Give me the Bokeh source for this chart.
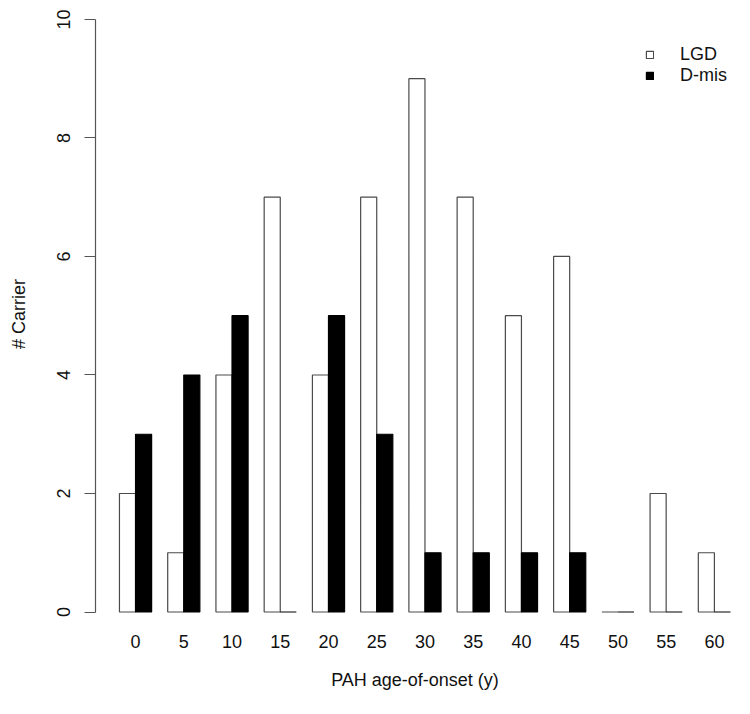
from bokeh.plotting import figure
from bokeh.models import Range1d, FixedTicker, Legend, LegendItem, ColumnDataSource
from bokeh.embed import file_html
from bokeh.resources import INLINE

# Data
ages = [0, 5, 10, 15, 20, 25, 30, 35, 40, 45, 50, 55, 60]
lgd = [2, 1, 4, 7, 4, 7, 9, 7, 5, 6, 0, 2, 1]
dmis = [3, 4, 5, 0, 5, 3, 1, 1, 1, 1, 0, 0, 0]
y_ticks = [0, 2, 4, 6, 8, 10]

FONT = "Liberation Sans"

# R barplot(beside=TRUE) layout: each group = gap(1) + 2 bars of width 1
centers = [3 * i + 2 for i in range(len(ages))]
src_lgd = ColumnDataSource(dict(x=[c - 0.5 for c in centers], top=lgd))
src_dmis = ColumnDataSource(dict(x=[c + 0.5 for c in centers], top=dmis))

p = figure(width=734, height=698, output_backend="svg", toolbar_location=None,
           x_range=Range1d(-0.49, 39.25), y_range=Range1d(-0.042, 10.10),
           min_border_left=95, min_border_right=0, min_border_top=13, min_border_bottom=84)
p.outline_line_color = None
p.xgrid.visible = False
p.ygrid.visible = False
p.background_fill_color = "white"
p.border_fill_color = "white"

r1 = p.vbar(x="x", top="top", bottom=0, width=1, source=src_lgd,
            fill_color="white", line_color="#4a4a4a", line_width=1.2)
r2 = p.vbar(x="x", top="top", bottom=0, width=1, source=src_dmis,
            fill_color="black", line_color="black", line_width=1.2)

# Y axis
ya = p.yaxis[0]
ya.ticker = FixedTicker(ticks=y_ticks)
ya.bounds = (0, 10)
ya.axis_line_color = "#555555"
ya.axis_line_width = 1.2
ya.major_tick_line_color = "#555555"
ya.major_tick_out = 11
ya.major_tick_in = 0
ya.minor_tick_line_color = None
ya.major_label_orientation = "vertical"
ya.major_label_standoff = 14
ya.major_label_text_font = FONT
ya.major_label_text_font_size = "18px"
ya.major_label_text_color = "#111111"
ya.axis_label = "# Carrier"
ya.axis_label_text_font = FONT
ya.axis_label_text_font_size = "18px"
ya.axis_label_text_font_style = "normal"
ya.axis_label_text_color = "#111111"
ya.axis_label_standoff = 26

# X axis
xa = p.xaxis[0]
xa.ticker = FixedTicker(ticks=centers)
xa.major_label_overrides = {c: str(a) for c, a in zip(centers, ages)}
xa.axis_line_color = None
xa.major_tick_line_color = None
xa.minor_tick_line_color = None
xa.major_tick_out = 0
xa.major_label_standoff = 20
xa.major_label_text_font = FONT
xa.major_label_text_font_size = "18px"
xa.major_label_text_color = "#111111"
xa.axis_label = "PAH age-of-onset (y)"
xa.axis_label_text_font = FONT
xa.axis_label_text_font_size = "18px"
xa.axis_label_text_font_style = "normal"
xa.axis_label_text_color = "#111111"
xa.axis_label_standoff = 19

legend = Legend(items=[LegendItem(label="LGD", renderers=[r1]),
                       LegendItem(label="D-mis", renderers=[r2])],
                location=(550, 528), orientation="vertical",
                glyph_width=9, glyph_height=9, label_height=18, label_standoff=26,
                spacing=0, padding=5, margin=0,
                label_text_font=FONT, label_text_font_size="18px",
                label_text_color="#111111",
                border_line_color=None, background_fill_alpha=0)
p.add_layout(legend, "center")

open("out.html", "w").write(file_html(p, INLINE))
